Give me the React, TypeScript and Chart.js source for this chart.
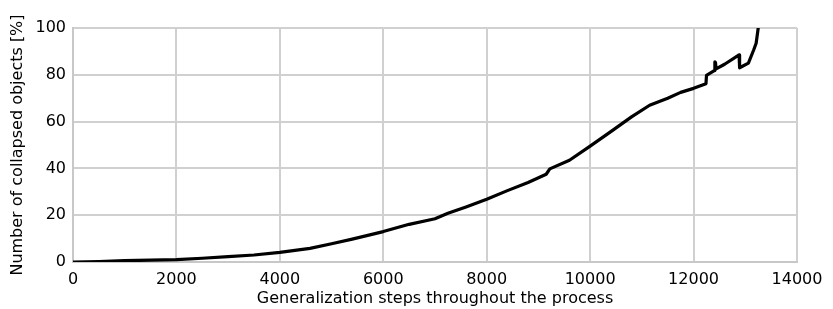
import React, { useEffect, useRef } from "react";
import { Chart, registerables } from "chart.js";

Chart.register(...registerables);

const steps = [
  0, 500, 1000, 1500, 2000, 2500, 3000, 3500, 4000, 4583, 5000, 5400, 6000, 6500,
  7000, 7250, 7600, 8000, 8400, 8800, 9150, 9220, 9600, 10000, 10400, 10800, 11150,
  11500, 11750, 12000, 12240, 12250, 12400, 12412, 12424, 12436, 12600, 12880, 12890, 13060,
  13160, 13210, 13250,
];
const collapsed = [
  0, 0.2, 0.55, 0.8, 1.0, 1.6, 2.3, 3.0, 4.1, 5.8, 7.8, 9.8, 13.0, 16.1,
  18.5, 20.8, 23.5, 26.8, 30.5, 34.0, 37.5, 39.8, 43.5, 49.5, 55.7, 62.0, 67.0,
  70.0, 72.5, 74.2, 76.2, 79.8, 81.8, 85.5, 85.2, 82.5, 84.5, 88.5, 83.0, 85.0,
  90.5, 93.5, 100,
];

const xTitle = "Generalization steps throughout the process";
const yTitle = "Number of collapsed objects [%]";

export default function App() {
  const ref = useRef<HTMLCanvasElement | null>(null);
  useEffect(() => {
    if (!ref.current) return;
    const font = { family: "DejaVu Sans", size: 16 };
    const chart = new Chart(ref.current, {
      type: "line",
      data: {
        datasets: [
          {
            data: steps.map((s, i) => ({ x: s, y: collapsed[i] })),
            borderColor: "#000",
            borderWidth: 3.2,
            borderJoinStyle: "round",
            borderCapStyle: "round",
            pointRadius: 0,
            tension: 0,
            fill: false,
          },
        ],
      },
      options: {
        animation: false,
        responsive: false,
        maintainAspectRatio: false,
        layout: { padding: { top: 28, right: 36, bottom: 1, left: 0 } },
        plugins: { legend: { display: false }, tooltip: { enabled: false } },
        scales: {
          x: {
            type: "linear",
            min: 0,
            max: 14000,
            ticks: {
              stepSize: 2000,
              color: "#000",
              font,
              padding: 8,
              maxRotation: 0,
              callback: (v: any) => String(v),
            },
            grid: { color: "#d0d0d0", lineWidth: 2, drawTicks: false },
            border: { color: "#c8c8c8", width: 2 },
            title: { display: true, text: xTitle, color: "#000", font, padding: { top: 0, bottom: 0 } },
            afterFit: (s: any) => {
              s.height = 46;
            },
          },
          y: {
            min: 0,
            max: 100,
            ticks: { stepSize: 20, color: "#000", font, padding: 7 },
            grid: { color: "#d0d0d0", lineWidth: 2, drawTicks: false },
            border: { color: "#c8c8c8", width: 2 },
            title: { display: true, text: yTitle, color: "#000", font, padding: { top: 8, bottom: 0 } },
            afterFit: (s: any) => {
              s.width = 73;
            },
          },
        },
      },
    });
    return () => chart.destroy();
  }, []);
  return (
    <div style={{ position: "fixed", left: 0, top: 0, width: 833, height: 309, background: "#fff" }}>
      <canvas ref={ref} width={833} height={309} style={{ display: "block" }} />
    </div>
  );
}
